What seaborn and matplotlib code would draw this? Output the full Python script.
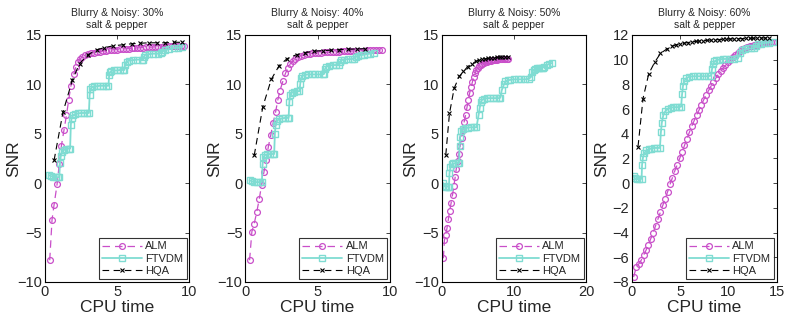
import numpy as np
import pandas as pd
import seaborn as sns
import matplotlib
matplotlib.use("Agg")
import matplotlib.pyplot as plt

# ---- data (CPU time vs SNR) ----
titles = ["Blurry & Noisy: 30%\nsalt & pepper", "Blurry & Noisy: 40%\nsalt & pepper",
          "Blurry & Noisy: 50%\nsalt & pepper", "Blurry & Noisy: 60%\nsalt & pepper"]

# 30%
alm30_x = [0.34, 0.5, 0.64, 0.85, 1.0, 1.15, 1.33, 1.5, 1.65, 1.8, 2.0, 2.15, 2.3, 2.45, 2.6,
           2.8, 3.0, 3.2, 3.4, 3.6, 3.8, 4.0, 4.2, 4.4, 4.6, 4.8, 5.0, 5.2, 5.4, 5.6, 5.8, 6.0,
           6.2, 6.4, 6.6, 6.8, 7.0, 7.2, 7.4, 7.6, 7.8, 8.0, 8.2, 8.4, 8.6, 8.8, 9.0, 9.2, 9.4, 9.6]
alm30_y = [-7.8, -3.7, -2.2, -0.1, 1.9, 3.8, 5.4, 6.9, 8.4, 9.8, 11.0, 11.8, 12.25, 12.55, 12.8,
           12.95, 13.05, 13.12, 13.2, 13.25, 13.3, 13.35, 13.4, 13.43, 13.47, 13.5, 13.52, 13.55,
           13.57, 13.6, 13.62, 13.64, 13.66, 13.68, 13.7, 13.72, 13.73, 13.75, 13.76, 13.78, 13.79,
           13.8, 13.82, 13.83, 13.84, 13.85, 13.87, 13.88, 13.89, 13.9]
ftv30_x = [0.3, 0.45, 0.6, 0.75, 0.9, 1.0, 1.05, 1.1, 1.2, 1.35, 1.5, 1.65, 1.75, 1.8, 1.85, 1.95,
           2.1, 2.3, 2.5, 2.7, 2.9, 3.05, 3.1, 3.15, 3.25, 3.4, 3.6, 3.8, 4.0, 4.2, 4.4, 4.45, 4.5,
           4.6, 4.8, 5.0, 5.2, 5.4, 5.5, 5.55, 5.65, 5.85, 6.1, 6.4, 6.7, 6.8, 6.85, 6.95, 7.2, 7.5,
           7.8, 8.0, 8.1, 8.3, 8.6, 8.9, 9.2, 9.5]
ftv30_y = [0.8, 0.7, 0.65, 0.6, 0.6, 0.6, 2.0, 2.7, 3.2, 3.4, 3.5, 3.5, 3.5, 5.9, 6.6, 6.85, 7.0,
           7.05, 7.1, 7.1, 7.1, 7.1, 8.9, 9.5, 9.7, 9.8, 9.8, 9.85, 9.85, 9.85, 9.85, 10.9, 11.2,
           11.35, 11.4, 11.4, 11.45, 11.45, 11.45, 12.0, 12.3, 12.4, 12.45, 12.5, 12.5, 12.5, 12.8,
           13.0, 13.05, 13.1, 13.1, 13.15, 13.3, 13.45, 13.55, 13.65, 13.7, 13.8]
hqa30_x = [0.64, 1.26, 1.9, 2.4, 3.0, 3.6, 4.1, 4.75, 5.4, 6.0, 6.55, 7.2, 7.75, 8.3, 8.9, 9.5]
hqa30_y = [2.3, 7.2, 10.4, 12.1, 13.0, 13.5, 13.7, 13.9, 14.0, 14.1, 14.15, 14.2, 14.2, 14.2, 14.25, 14.25]

# 40%
alm40_x = [0.3, 0.46, 0.62, 0.8, 0.97, 1.13, 1.29, 1.45, 1.6, 1.77, 1.93, 2.1, 2.25, 2.4, 2.6,
           2.78, 2.94, 3.1, 3.3, 3.47, 3.65, 3.85, 4.05, 4.25, 4.45, 4.65, 4.85, 5.05, 5.25, 5.45,
           5.65, 5.85, 6.05, 6.25, 6.45, 6.65, 6.85, 7.05, 7.25, 7.45, 7.65, 7.85, 8.05, 8.25,
           8.45, 8.65, 8.85, 9.05, 9.25, 9.45]
alm40_y = [-7.8, -4.9, -4.1, -2.9, -1.6, -0.2, 1.1, 2.35, 3.7, 4.9, 6.1, 7.2, 8.4, 9.35, 10.3,
           11.1, 11.6, 12.05, 12.35, 12.6, 12.8, 12.9, 12.97, 13.03, 13.08, 13.12, 13.15, 13.18,
           13.2, 13.22, 13.24, 13.26, 13.28, 13.3, 13.31, 13.32, 13.33, 13.35, 13.36, 13.37, 13.38,
           13.39, 13.4, 13.41, 13.42, 13.43, 13.44, 13.45, 13.46, 13.47]
ftv40_x = [0.3, 0.45, 0.6, 0.8, 1.0, 1.15, 1.2, 1.25, 1.35, 1.5, 1.7, 1.9, 2.0, 2.05, 2.1, 2.2,
           2.35, 2.55, 2.75, 2.95, 3.0, 3.05, 3.1, 3.2, 3.35, 3.55, 3.75, 3.8, 3.85, 3.95, 4.1,
           4.35, 4.6, 4.85, 5.1, 5.35, 5.45, 5.5, 5.6, 5.8, 6.05, 6.3, 6.5, 6.55, 6.65, 6.85, 7.1,
           7.35, 7.55, 7.65, 7.8, 8.0, 8.2, 8.4, 8.6, 8.9]
ftv40_y = [0.3, 0.2, 0.1, 0.1, 0.1, 0.1, 1.9, 2.6, 2.85, 2.9, 2.95, 2.95, 2.95, 5.0, 5.9, 6.3,
           6.5, 6.55, 6.6, 6.6, 6.6, 8.2, 8.9, 9.15, 9.25, 9.3, 9.3, 10.0, 10.6, 10.85, 10.95,
           11.0, 11.0, 11.0, 11.0, 11.0, 11.05, 11.5, 11.8, 11.9, 11.95, 11.95, 11.95, 12.3, 12.45,
           12.5, 12.55, 12.55, 12.6, 12.8, 12.9, 12.95, 13.0, 13.05, 13.1, 13.2]
hqa40_x = [0.62, 1.22, 1.8, 2.35, 2.9, 3.55, 4.15, 4.75, 5.35, 5.9, 6.5, 7.1, 7.7, 8.25]
hqa40_y = [2.8, 7.75, 10.5, 11.9, 12.6, 13.0, 13.2, 13.35, 13.4, 13.45, 13.5, 13.55, 13.57, 13.6]

# 50%
alm50_x = [0.23, 0.37, 0.56, 0.74, 0.93, 1.1, 1.3, 1.5, 1.67, 1.86, 2.0, 2.2, 2.37, 2.56, 2.74,
           2.93, 3.1, 3.3, 3.5, 3.67, 3.86, 4.05, 4.23, 4.4, 4.6, 4.8, 5.0, 5.2, 5.4, 5.6, 5.8,
           6.0, 6.2, 6.4, 6.6, 6.8, 7.0, 7.2, 7.4, 7.6, 7.8, 8.0, 8.2, 8.4, 8.6, 8.8, 9.0, 9.2]
alm50_y = [-7.6, -5.8, -5.2, -4.5, -3.6, -2.8, -2.0, -1.15, -0.3, 0.6, 1.4, 2.2, 2.95, 3.8, 4.6,
           5.4, 6.2, 6.9, 7.7, 8.4, 9.1, 9.7, 10.2, 10.7, 11.1, 11.45, 11.7, 11.9, 12.0, 12.1,
           12.17, 12.23, 12.28, 12.32, 12.36, 12.4, 12.43, 12.46, 12.48, 12.5, 12.52, 12.54,
           12.56, 12.57, 12.58, 12.59, 12.6, 12.6]
ftv50_x = [0.2, 0.4, 0.6, 0.8, 1.0, 1.07, 1.2, 1.4, 1.6, 1.9, 2.2, 2.4, 2.46, 2.55, 2.7, 2.9,
           3.2, 3.6, 4.0, 4.4, 4.8, 5.1, 5.25, 5.4, 5.6, 5.9, 6.3, 6.7, 7.1, 7.5, 7.9, 8.1, 8.3,
           8.6, 8.8, 9.1, 9.5, 10.0, 10.5, 11.0, 11.5, 12.0, 12.3, 12.5, 12.7, 12.9, 13.2, 13.5,
           13.8, 14.0, 14.2, 14.5, 14.8, 15.2]
ftv50_y = [0.0, -0.3, -0.35, -0.35, -0.35, 1.0, 1.6, 1.9, 2.0, 2.0, 2.05, 2.05, 3.8, 4.7, 5.3,
           5.5, 5.6, 5.6, 5.65, 5.65, 5.65, 6.9, 7.6, 8.2, 8.45, 8.55, 8.6, 8.6, 8.6, 8.6, 8.6,
           8.65, 9.4, 10.0, 10.3, 10.4, 10.45, 10.5, 10.5, 10.5, 10.5, 10.55, 10.7, 11.2, 11.45,
           11.55, 11.6, 11.6, 11.65, 11.7, 11.8, 11.95, 12.05, 12.15]
hqa50_x = [0.56, 1.07, 1.72, 2.42, 3.0, 3.6, 4.2, 4.8, 5.2, 5.6, 6.0, 6.4, 6.8, 7.2, 7.6, 8.0,
           8.4, 8.8, 9.2]
hqa50_y = [2.85, 7.05, 9.6, 10.8, 11.3, 11.8, 12.1, 12.35, 12.45, 12.52, 12.58, 12.62, 12.66,
           12.7, 12.72, 12.74, 12.76, 12.78, 12.8]

# 60%
alm60_x = [0.17, 0.45, 0.7, 0.95, 1.2, 1.45, 1.7, 1.95, 2.2, 2.45, 2.7, 2.95, 3.2, 3.45, 3.7,
           3.95, 4.2, 4.45, 4.7, 4.95, 5.2, 5.45, 5.7, 5.95, 6.2, 6.45, 6.7, 6.95, 7.2, 7.45, 7.7,
           7.95, 8.2, 8.45, 8.7, 8.95, 9.2, 9.45, 9.7, 9.95, 10.2, 10.45, 10.7, 10.95, 11.2, 11.45,
           11.7, 11.95, 12.2, 12.45, 12.7, 12.95, 13.2, 13.45, 13.7, 13.95, 14.2, 14.45, 14.6]
alm60_y = [-7.6, -6.8, -6.55, -6.25, -5.85, -5.45, -5.0, -4.5, -4.0, -3.45, -2.9, -2.35, -1.8,
           -1.25, -0.7, -0.1, 0.45, 1.0, 1.5, 2.0, 2.5, 3.05, 3.6, 4.1, 4.6, 5.05, 5.5, 5.9, 6.35,
           6.75, 7.15, 7.5, 7.85, 8.2, 8.5, 8.8, 9.05, 9.3, 9.55, 9.8, 10.0, 10.2, 10.4, 10.55,
           10.7, 10.82, 10.92, 11.0, 11.07, 11.13, 11.18, 11.22, 11.26, 11.3, 11.33, 11.36, 11.38,
           11.4, 11.42]
ftv60_x = [0.17, 0.28, 0.5, 0.75, 1.0, 1.05, 1.15, 1.3, 1.5, 1.75, 2.0, 2.3, 2.6, 2.9, 3.0, 3.1,
           3.25, 3.45, 3.7, 4.0, 4.3, 4.6, 4.9, 5.1, 5.2, 5.3, 5.45, 5.65, 5.9, 6.3, 6.7, 7.1, 7.5,
           7.9, 8.2, 8.3, 8.4, 8.55, 8.75, 9.0, 9.4, 9.8, 10.2, 10.6, 11.0, 11.2, 11.4, 11.7, 12.0,
           12.4, 12.7, 12.9, 13.1, 13.4, 13.8, 14.2, 14.6]
ftv60_y = [0.6, 0.4, 0.35, 0.35, 0.35, 1.5, 2.1, 2.45, 2.65, 2.75, 2.8, 2.85, 2.85, 2.85, 4.1,
           4.9, 5.5, 5.8, 6.0, 6.1, 6.15, 6.15, 6.15, 6.2, 7.2, 7.9, 8.3, 8.5, 8.6, 8.65, 8.65,
           8.65, 8.65, 8.65, 8.7, 9.2, 9.65, 9.85, 9.95, 10.0, 10.05, 10.05, 10.05, 10.05, 10.1,
           10.5, 10.75, 10.85, 10.9, 10.9, 10.95, 11.1, 11.25, 11.3, 11.35, 11.38, 11.42]
hqa60_x = [0.63, 1.15, 1.74, 2.37, 2.96, 3.6, 4.2, 4.6, 5.0, 5.4, 5.8, 6.2, 6.6, 7.0, 7.4, 7.8,
           8.2, 8.6, 9.0, 9.4, 9.8, 10.2, 10.6, 11.0, 11.4, 11.8, 12.2, 12.6, 13.0, 13.4, 13.8, 14.2]
hqa60_y = [2.95, 6.85, 8.85, 9.8, 10.5, 10.85, 11.1, 11.2, 11.27, 11.33, 11.38, 11.43, 11.47,
           11.5, 11.53, 11.56, 11.58, 11.6, 11.62, 11.64, 11.65, 11.67, 11.68, 11.69, 11.7, 11.71,
           11.72, 11.73, 11.74, 11.75, 11.75, 11.76]

panels = [
    (alm30_x, alm30_y, ftv30_x, ftv30_y, hqa30_x, hqa30_y),
    (alm40_x, alm40_y, ftv40_x, ftv40_y, hqa40_x, hqa40_y),
    (alm50_x, alm50_y, ftv50_x, ftv50_y, hqa50_x, hqa50_y),
    (alm60_x, alm60_y, ftv60_x, ftv60_y, hqa60_x, hqa60_y),
]
xlims = [(0, 10), (0, 10), (0, 20), (0, 15)]
ylims = [(-10, 15), (-10, 15), (-10, 15), (-8, 12)]

sns.set_theme(style="white")
plt.rcParams['font.family'] = ['Liberation Sans', 'DejaVu Sans']

alm_col = "#c94fc9"
ftv_col = "#7fdcd2"

fig = plt.figure(figsize=(7.86, 3.26), dpi=100)
lefts = [0.057, 0.312, 0.562, 0.804]

for i, (ax_x, ax_y, fx, fy, hx, hy) in enumerate(panels):
    ax = fig.add_axes([lefts[i], 0.135, 0.184, 0.758])
    sns.lineplot(x=ax_x, y=ax_y, ax=ax, sort=False, estimator=None, color=alm_col,
                 linestyle=(0, (6, 4)), linewidth=0.9, marker='o', markersize=4.2,
                 markerfacecolor='none', markeredgecolor=alm_col, markeredgewidth=0.9,
                 label='ALM')
    sns.lineplot(x=fx, y=fy, ax=ax, sort=False, estimator=None, color=ftv_col,
                 linestyle='-', linewidth=1.3, marker='s', markersize=4,
                 markerfacecolor='none', markeredgecolor=ftv_col, markeredgewidth=1.0,
                 label='FTVDM')
    sns.lineplot(x=hx, y=hy, ax=ax, sort=False, estimator=None, color='black',
                 linestyle=(0, (6, 4)), linewidth=0.8, marker='x', markersize=3.5,
                 markeredgecolor='black', markeredgewidth=0.8, label='HQA')
    ax.set_xlim(*xlims[i])
    ax.set_ylim(*ylims[i])
    if i == 3:
        ax.set_yticks(np.arange(-8, 13, 2))
    else:
        ax.set_yticks(np.arange(-10, 16, 5))
    ax.set_xticks(np.arange(xlims[i][0], xlims[i][1] + 1, 5 if i != 2 else 10))
    ax.tick_params(direction='in', top=True, right=True, length=3, width=0.6,
                   labelsize=10.5, pad=2)
    for sp in ax.spines.values():
        sp.set_color('black')
        sp.set_linewidth(0.8)
    ax.set_xlabel("CPU time", fontsize=12.5, labelpad=1)
    ax.set_ylabel("SNR", fontsize=12.5)
    ax.yaxis.set_label_coords(-0.16, 0.5)
    ax.set_title(titles[i], fontsize=7.5, pad=5, linespacing=1.3)
    leg = ax.legend(loc='lower right', fontsize=8, handlelength=3.6, frameon=True,
                    fancybox=False, edgecolor='black', borderaxespad=0.25,
                    borderpad=0.3, labelspacing=0.2, handletextpad=0.3)
    leg.get_frame().set_linewidth(0.8)

fig.savefig("out.png", dpi=100)
